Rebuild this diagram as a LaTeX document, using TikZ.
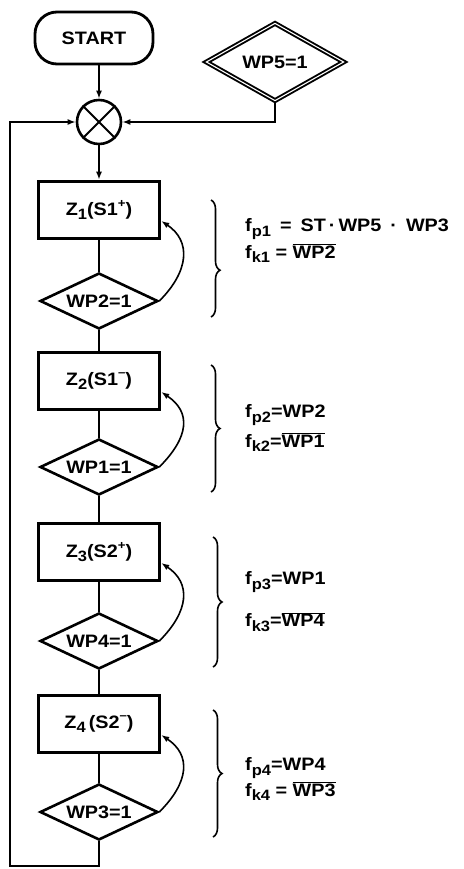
\documentclass[tikz,border=0pt]{standalone}
\usepackage{fontspec}
\setmainfont{Liberation Sans}[FakeStretch=1.1]
\usetikzlibrary{shapes.geometric,arrows.meta,decorations.pathreplacing}
\newcommand\sbs[1]{\raisebox{-0.45ex}{\fontsize{15}{16}\selectfont #1}}
\newcommand\sps[1]{\raisebox{0.9ex}{\fontsize{12}{14}\selectfont #1}}
\begin{document}
\begin{tikzpicture}[x=1pt,y=-1pt,
  font=\fontsize{18}{21}\selectfont\bfseries,
  term/.style={draw,line width=2.8pt,rounded corners=22pt,minimum width=118pt,minimum height=52pt,inner sep=0pt},
  proc/.style={draw,line width=3.5pt,minimum width=121pt,minimum height=57pt,inner sep=0pt},
  dec/.style={draw,shape=diamond,line width=2.6pt,minimum width=118pt,minimum height=56pt,inner sep=0pt,aspect=2.1},
  dec2/.style={draw,shape=diamond,line width=1.9pt,double=white,double distance=1.1pt,minimum width=138pt,minimum height=78pt,inner sep=0pt,aspect=1.8},
  junc/.style={draw,circle,line width=2.6pt,minimum size=44pt,inner sep=0pt},
  conn/.style={line width=1.6pt},
  arr/.style={conn,-{Latex[length=8pt,width=6pt]}},
  brc/.style={decorate,decoration={brace,amplitude=9pt},line width=1.6pt},
  lbl/.style={anchor=west,inner sep=0pt}]
\useasboundingbox (0,0) rectangle (463,869);
% nodes
\node[term] (start) at (94,38) {START};
\node[dec2] (wp5) at (275,62) {WP5=1};
\node[junc] (circ) at (99,122) {};
\node[proc] (b1) at (99,210) {Z\sbs{1}(S1\sps{+})};
\node[dec]  (d1) at (99,301) {WP2=1};
\node[proc] (b2) at (99,381) {Z\sbs{2}(S1\sps{--})};
\node[dec]  (d2) at (99,467) {WP1=1};
\node[proc] (b3) at (99,552) {Z\sbs{3}(S2\sps{+})};
\node[dec]  (d3) at (99,641) {WP4=1};
\node[proc] (b4) at (99,724) {Z\sbs{4}\,(S2\sps{--})};
\node[dec]  (d4) at (99,812) {WP3=1};
\coordinate (bl) at (10,866);
% cross in junction
\draw[line width=2pt] (circ.45) -- (circ.225) (circ.135) -- (circ.-45);
% connectors
\draw[arr] (start.south -| circ.north) -- (circ.north);
\draw[arr] (wp5.south) |- (circ.east);
\draw[arr] (circ.south) -- (b1.north);
\draw[conn] (b1.south) -- (d1.north);
\draw[conn] (d1.south) -- (b2.north);
\draw[conn] (b2.south) -- (d2.north);
\draw[conn] (d2.south) -- (b3.north);
\draw[conn] (b3.south) -- (d3.north);
\draw[conn] (d3.south) -- (b4.north);
\draw[conn] (b4.south) -- (d4.north);
\draw[arr] (d4.south) -- (d4.south |- bl) -- (bl) -- (bl |- circ.west) -- (circ.west);
% feedback curves
\draw[arr] (d1.east) .. controls +(30,-30) and +(30,20) .. (b1.-10);
\draw[arr] (d2.east) .. controls +(30,-30) and +(30,20) .. (b2.-10);
\draw[arr] (d3.east) .. controls +(30,-30) and +(30,20) .. (b3.-10);
\draw[arr] (d4.east) .. controls +(30,-30) and +(30,20) .. (b4.-10);
% braces
\draw[brc,decoration={aspect=0.6}] (211,200) -- (211,317);
\draw[brc] (211,365) -- (211,492);
\draw[brc] (213,537) -- (213,667);
\draw[brc] (213,710) -- (213,837);
% labels
\node[lbl] (fp1) at (245,229) {f\sbs{p1}\enspace=\enspace ST\,·\,WP5\enspace·\enspace WP3};
\node[lbl] (fk1) at (245,253) {f\sbs{k1} = $\overline{\hbox{WP2}}$};
\node[lbl] (fp2) at (245,415) {f\sbs{p2}=WP2};
\node[lbl] (fk2) at (245,442) {f\sbs{k2}=$\overline{\hbox{WP1}}$};
\node[lbl] (fp3) at (245,582) {f\sbs{p3}=WP1};
\node[lbl] (fk3) at (245,622) {f\sbs{k3}=$\overline{\hbox{WP4}}$};
\node[lbl] (fp4) at (245,768) {f\sbs{p4}=WP4};
\node[lbl] (fk4) at (245,791) {f\sbs{k4} = $\overline{\hbox{WP3}}$};
\end{tikzpicture}
\end{document}
